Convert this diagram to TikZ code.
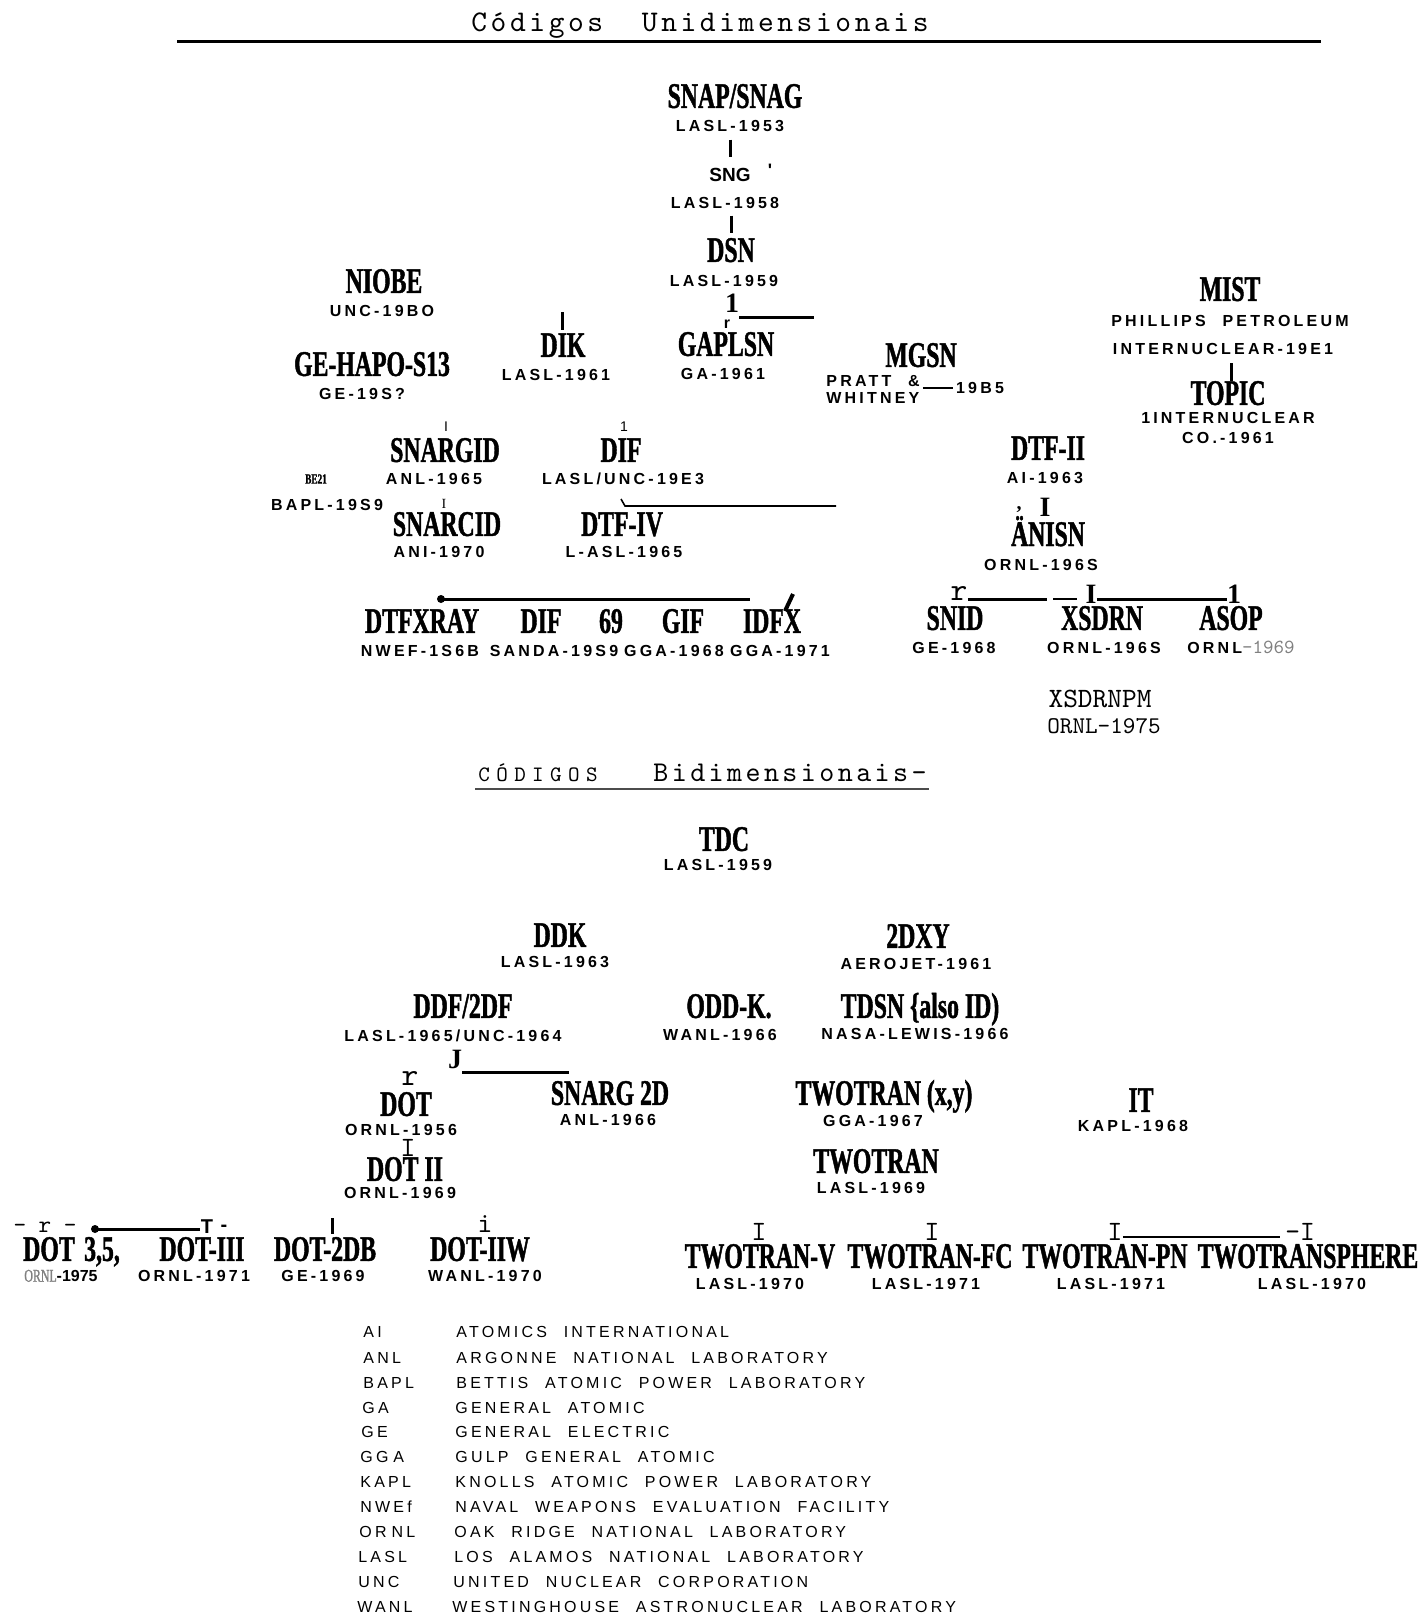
\documentclass[tikz,border=0pt]{standalone}
\usepackage{fontspec}
\usepackage{tikz}
\usetikzlibrary{arrows}
\usetikzlibrary{arrows.meta}

\newfontfamily\namefam[FakeStretch=0.66,FakeBold=1.2]{Liberation Serif}
\newfontfamily\serfam{Liberation Serif}
\newfontfamily\sansfam{Liberation Sans}
\newfontfamily\labfam[LetterSpace=20,WordSpace=2.2]{Liberation Sans}
\newfontfamily\typefam[Extension=.otf]{lmmono10-regular}
\newfontfamily\ttlfam[Extension=.otf,LetterSpace=12]{lmmono10-regular}
\newfontfamily\tcapsfam[Extension=.otf,LetterSpace=29]{lmmono10-regular}

\tikzset{
  code/.style={font=\namefam\bfseries\fontsize{18}{18}\selectfont, inner sep=0pt, text height=11.9pt, text depth=0pt},
  codesmall/.style={code, font=\namefam\bfseries\fontsize{7}{7}\selectfont, text height=4.6pt},
  lab/.style={font=\labfam\bfseries\fontsize{8}{8}\selectfont, inner sep=0pt, text height=5.7pt, text depth=0pt},
  leg/.style={font=\labfam\fontsize{8}{8}\selectfont, inner sep=0pt, anchor=west, text height=5.7pt, text depth=0pt},
  ttl/.style={font=\ttlfam\fontsize{#1}{#1}\selectfont, inner sep=0pt, anchor=base},
  tw/.style={font=\typefam\fontsize{#1}{#1}\selectfont, inner sep=0pt},
  digit/.style={font=\serfam\bfseries\fontsize{14}{14}\selectfont, inner sep=0pt},
  tiny/.style={font=\sansfam\fontsize{7}{7}\selectfont, inner sep=0pt},
  bar/.style={line width=1.5pt},
  medbar/.style={line width=1pt},
  fineline/.style={line width=0.8pt}
}

\begin{document}
\begin{tikzpicture}[x=0.5pt,y=-0.5pt]
    \useasboundingbox (0,0) rectangle (1421,1618);
    % Unidimensionais
    \node[ttl=15] (unititle) at (700,31) {Códigos\ \ Unidimensionais};
    \coordinate (unil) at (177,41);
    \coordinate (unir) at (1321,41);
    \draw[bar] (unil) -- (unir);

    \node[code] (snap) at (735,96) {SNAP/SNAG};
    \node[lab] (snapy) at (730,126) {LASL-1953};
    \node[font=\sansfam\bfseries\fontsize{9.5}{9.5}\selectfont, inner sep=0pt] (sng) at (730,175) {SNG};
    \node[tiny, font=\sansfam\bfseries\fontsize{9}{9}\selectfont] (sngq) at (770,170) {'};
    \node[lab] (sngy) at (725,203) {LASL-1958};
    \node[code] (dsn) at (731,250) {DSN};
    \node[lab] (dsny) at (724,281) {LASL-1959};
    \draw[bar, shorten <=3.7pt, shorten >=5.5pt] (snapy) -- (sng);
    \draw[bar, shorten <=3.2pt, shorten >=2.5pt] (dsn.north |- sngy.south) -- (dsn.north);

    \node[digit] (gapone) at (732,303) {1};
    \node[font=\sansfam\bfseries\fontsize{8}{8}\selectfont, inner sep=0pt] (gapr) at (727,324) {r};
    \node[code] (gap) at (726,344) {GAPLSN};
    \node[lab] (gapy) at (723,374) {GA-1961};
    \coordinate (gapbar) at (814,317);
    \draw[bar] (gapone.east |- gapbar) -- (gapbar);

    \node[code] (niobe) at (384,281) {NIOBE};
    \node[lab] (niobey) at (382,311) {UNC-19BO};
    \node[code] (gehapo) at (372,364) {GE-HAPO-S13};
    \node[lab] (gehapoy) at (362,394) {GE-19S?};

    \coordinate (dikup) at (562,312);
    \node[code] (dik) at (563,345) {DIK};
    \node[lab] (diky) at (556,375) {LASL-1961};
    \draw[bar, shorten >=1.5pt] (dikup) -- (dikup |- dik.north);

    \node[code] (mgsn) at (921,355) {MGSN};
    \node[lab, anchor=west] (pratt) at (826,381) {PRATT \&};
    \node[lab, anchor=west] (whitney) at (826,398) {WHITNEY};
    \node[lab] (mgsny) at (980,388) {19B5};
    \draw[medbar, shorten <=1.5pt, shorten >=1.5pt] (whitney.east |- mgsny) -- (mgsny.west);

    \node[code] (mist) at (1230,289) {MIST};
    \node[lab] (misty) at (1230,321) {PHILLIPS PETROLEUM};
    \node[lab] (mistz) at (1223,349) {INTERNUCLEAR-19E1};
    \node[code] (topic) at (1228,393) {TOPIC};
    \node[lab] (topicy) at (1228,418) {1INTERNUCLEAR};
    \node[lab] (topicz) at (1228,438) {CO.-1961};
    \coordinate (topicup) at (1231,363);
    \draw[bar] (topicup) -- (topicup |- topic.north);

    \node[tiny] (snargidi) at (446,427) {I};
    \node[code] (snargid) at (445,450) {SNARGID};
    \node[lab] (snargidy) at (434,479) {ANL-1965};
    \node[tiny] (difone) at (624,427) {1};
    \node[code] (dif) at (621,450) {DIF};
    \node[lab] (dify) at (623,479) {LASL/UNC-19E3};
    \node[codesmall] (be) at (316,479) {BE21};
    \node[lab] (bapl) at (327,505) {BAPL-19S9};
    \node[tiny, font=\serfam\fontsize{7}{7}\selectfont] (snarcidi) at (444,504) {I};
    \node[code] (snarcid) at (447,524) {SNARCID};
    \node[lab] (snarcidy) at (439,552) {ANI-1970};
    \node[code] (dtfiv) at (622,524) {DTF-IV};
    \node[lab] (dtfivy) at (624,552) {L-ASL-1965};
    \coordinate (ivtop) at (621,499);
    \coordinate (ivend) at (836,506);
    \draw[fineline] (ivtop) -- (625,506) -- (ivend);

    \node[code] (dtfii) at (1048,448) {DTF-II};
    \node[lab] (dtfiiy) at (1045,478) {AI-1963};
    \node[digit] (anisni) at (1045,507) {I};
    \node[font=\serfam\bfseries\fontsize{10}{10}\selectfont, inner sep=0pt] (anisnc) at (1019,510) {,};
    \node[code, anchor=base, text height=] (anisn) at (1048,546) {ÄNISN};
    \node[lab] (anisny) at (1041,565) {ORNL-196S};

    \node[tw=16] (snidr) at (959,593) {r};
    \node[digit] (xsdrni) at (1091,594) {I};
    \node[digit] (asopone) at (1234,594) {1};
    \coordinate (rowa) at (1047,599);
    \coordinate (rowb) at (1053,599);
    \coordinate (rowc) at (1077,599);
    \draw[bar] (snidr.east |- rowa) -- (rowa);
    \draw[medbar] (rowb) -- (rowc);
    \draw[bar] (xsdrni.east |- rowa) -- (asopone.west |- rowa);
    \node[code] (snid) at (955,618) {SNID};
    \node[lab] (snidy) at (954,648) {GE-1968};
    \node[code] (xsdrn) at (1102,618) {XSDRN};
    \node[lab] (xsdrny) at (1104,648) {ORNL-196S};
    \node[code] (asop) at (1231,618) {ASOP};
    \node[lab] (asopy) at (1241,648) {ORNL{\typefam\fontsize{10}{10}\selectfont\color{gray}-1969}};
    \node[tw=14] (xsdrnpm) at (1100,699) {XSDRNPM};
    \node[tw=12] (xsdrnpmy) at (1104,726) {ORNL-1975};

    \coordinate (xdot) at (441,599);
    \coordinate (xend) at (750,599);
    \fill (xdot) circle (4);
    \draw[bar] (xdot) -- (xend);
    \node[code] (dtfx) at (422,621) {DTFXRAY};
    \node[lab] (dtfxy) at (420,651) {NWEF-1S6B};
    \node[code] (diff) at (541,621) {DIF};
    \node[lab] (diffy) at (554,651) {SANDA-19S9};
    \node[code] (sixnine) at (611,621) {69};
    \node[code] (gif) at (683,621) {GIF};
    \node[lab] (gify) at (674,651) {GGA-1968};
    \node[code] (idfx) at (772,621) {IDFX};
    \node[lab] (idfxy) at (780,651) {GGA-1971};
    \coordinate (slasha) at (785,611);
    \coordinate (slashb) at (793,594);
    \draw[line width=2pt] (slasha) -- (slashb);

    % Bidimensionais
    \node[font=\tcapsfam\fontsize{11}{11}\selectfont, inner sep=0pt, anchor=base] (bidc) at (538,781) {CÓDIGOS};
    \node[ttl=14.3] (bidim) at (790,781) {Bidimensionais-};
    \coordinate (bidl) at (475,789);
    \coordinate (bidr) at (929,789);
    \draw[fineline, black!70] (bidl) -- (bidr);

    \node[code] (tdc) at (724,839) {TDC};
    \node[lab] (tdcy) at (718,865) {LASL-1959};
    \node[code] (ddk) at (560,935) {DDK};
    \node[lab] (ddky) at (555,962) {LASL-1963};
    \node[code] (dxy) at (918,936) {2DXY};
    \node[lab] (dxyy) at (916,964) {AEROJET-1961};
    \node[code] (ddf) at (463,1006) {DDF/2DF};
    \node[lab] (ddfy) at (453,1036) {LASL-1965/UNC-1964};
    \node[code] (oddk) at (729,1006) {ODD-K.};
    \node[lab] (oddky) at (720,1035) {WANL-1966};
    \node[code] (tdsn) at (920,1006) {TDSN \{also ID)};
    \node[lab] (tdsny) at (915,1034) {NASA-LEWIS-1966};

    \node[digit] (ddfj) at (455,1059) {J};
    \coordinate (jend) at (569,1072);
    \draw[bar] (ddfj.east |- jend) -- (jend);
    \node[tw=16] (dotr) at (410,1078) {r};
    \node[code] (dot) at (406,1104) {DOT};
    \node[lab] (doty) at (401,1130) {ORNL-1956};
    \node[tw=14] (dotiii) at (408,1148) {I};
    \node[code] (dotii) at (405,1169) {DOT II};
    \node[lab] (dotiiy) at (400,1193) {ORNL-1969};
    \node[code] (snarg) at (610,1093) {SNARG 2D};
    \node[lab] (snargy) at (608,1120) {ANL-1966};
    \node[code] (twoxy) at (884,1093) {TWOTRAN (x,y)};
    \node[lab] (twoxyy) at (873,1121) {GGA-1967};
    \node[code] (it) at (1141,1100) {IT};
    \node[lab] (ity) at (1133,1126) {KAPL-1968};
    \node[code] (two) at (876,1161) {TWOTRAN};
    \node[lab] (twoy) at (871,1188) {LASL-1969};

    \node[tw=12] (dotdash) at (45,1227) {-\ r\ -};
    \coordinate (bdot) at (95,1229);
    \fill (bdot) circle (4);
    \node[font=\sansfam\bfseries\fontsize{10}{10}\selectfont, inner sep=0pt] (dotT) at (207,1227) {T};
    \node[font=\sansfam\bfseries\fontsize{10}{10}\selectfont, inner sep=0pt] (dotTd) at (224,1228) {-};
    \draw[bar] (bdot) -- (dotT.south west |- bdot);
    \node[code] (dotb) at (49,1249) {DOT};
    \node[code] (dotbn) at (102,1249) {3,5,};
    \node[lab] (dotby) at (61,1276) {{\color{gray}\namefam\mdseries\fontsize{9}{9}\selectfont ORNL}{\sansfam\bfseries -1975}};
    \node[code] (dotc) at (202,1249) {DOT-III};
    \node[lab] (dotcy) at (194,1276) {ORNL-1971};
    \coordinate (dbup) at (332,1218);
    \node[code] (dotd) at (325,1249) {DOT-2DB};
    \node[lab] (dotdy) at (323,1276) {GE-1969};
    \draw[bar, shorten >=1.5pt] (dbup) -- (dbup |- dotd.north);
    \node[tw=14] (dotei) at (485,1224) {i};
    \node[code] (dote) at (480,1249) {DOT-IIW};
    \node[lab] (dotey) at (485,1276) {WANL-1970};

    \node[tw=14] (twvi) at (759,1232) {I};
    \node[code] (twv) at (760,1256) {TWOTRAN-V};
    \node[lab] (twvy) at (750,1284) {LASL-1970};
    \node[tw=14] (twfci) at (932,1232) {I};
    \node[code] (twfc) at (930,1256) {TWOTRAN-FC};
    \node[lab] (twfcy) at (926,1284) {LASL-1971};
    \node[tw=14] (twpni) at (1115,1232) {I};
    \node[code] (twpn) at (1105,1256) {TWOTRAN-PN};
    \node[lab] (twpny) at (1111,1284) {LASL-1971};
    \node[tw=14] (twspi) at (1300,1232) {-I};
    \node[code] (twsp) at (1308,1256) {TWOTRANSPHERE};
    \node[lab] (twspy) at (1312,1284) {LASL-1970};
    \coordinate (pnend) at (1280,1237);
    \draw[fineline] (twpni.east |- pnend) -- (pnend);

    % legenda
    \node[leg] (ai) at (363,1332) {AI};
    \node[leg] (aiy) at (456,1332) {ATOMICS INTERNATIONAL};
    \node[leg] (anl) at (363,1358) {ANL};
    \node[leg] (anly) at (456,1358) {ARGONNE NATIONAL LABORATORY};
    \node[leg] (bapl) at (363,1383) {BAPL};
    \node[leg] (baply) at (456,1383) {BETTIS ATOMIC POWER LABORATORY};
    \node[leg] (ga) at (362,1408) {GA};
    \node[leg] (gay) at (455,1408) {GENERAL ATOMIC};
    \node[leg] (ge) at (361,1432) {GE};
    \node[leg] (gey) at (455,1432) {GENERAL ELECTRIC};
    \node[leg] (gga) at (360,1457) {GG\kern2.5pt A};
    \node[leg] (ggay) at (455,1457) {GULP GENERAL ATOMIC};
    \node[leg] (kapl) at (360,1482) {KAPL};
    \node[leg] (kaply) at (455,1482) {KNOLLS ATOMIC POWER LABORATORY};
    \node[leg] (nwef) at (360,1507) {NWEf};
    \node[leg] (nwefy) at (455,1507) {NAVAL WEAPONS EVALUATION FACILITY};
    \node[leg] (ornl) at (359,1532) {OR\kern2.5pt NL};
    \node[leg] (ornly) at (454,1532) {OAK RIDGE NATIONAL LABORATORY};
    \node[leg] (lasl) at (358,1557) {LASL};
    \node[leg] (lasly) at (454,1557) {LOS ALAMOS NATIONAL LABORATORY};
    \node[leg] (unc) at (358,1582) {UNC};
    \node[leg] (uncy) at (453,1582) {UNITED NUCLEAR CORPORATION};
    \node[leg] (wanl) at (357,1607) {WANL};
    \node[leg] (wanly) at (452,1607) {WESTINGHOUSE ASTRONUCLEAR LABORATORY};
  \end{tikzpicture}
\end{document}
